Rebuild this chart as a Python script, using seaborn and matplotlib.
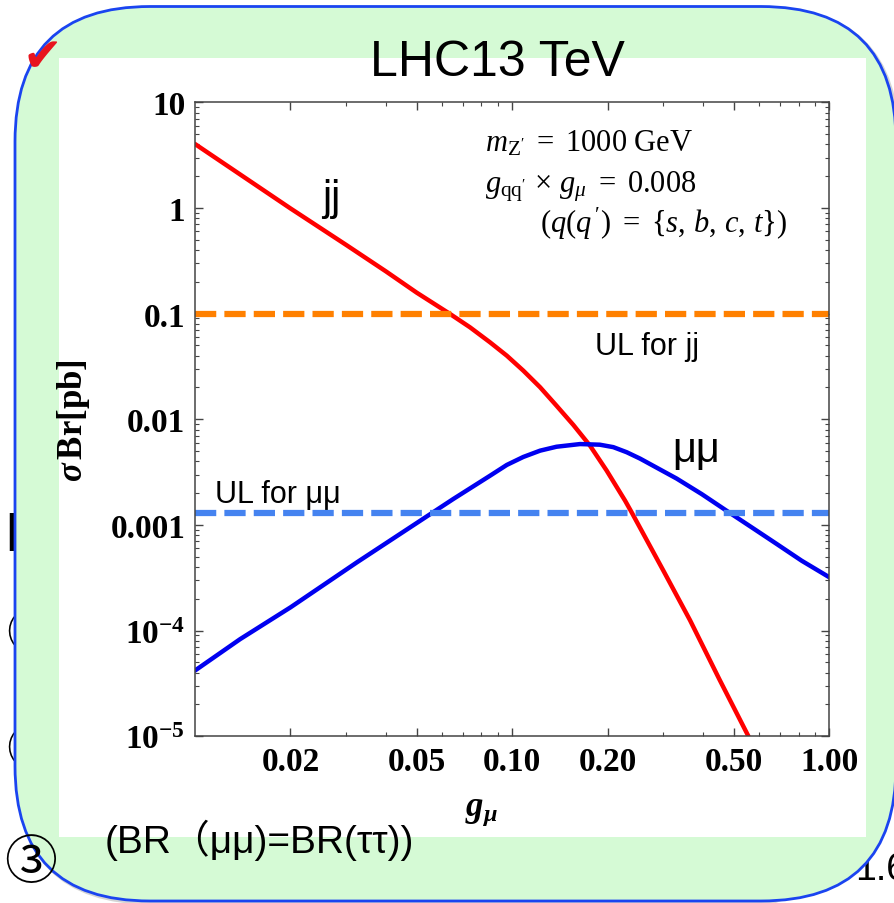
"""Z' cross section times branching ratio vs g_mu, LHC 13 TeV slide."""

import matplotlib
matplotlib.use("Agg")
import matplotlib.pyplot as plt
import numpy as np
import seaborn as sns
from matplotlib.patches import FancyBboxPatch, Rectangle
from matplotlib.ticker import LogLocator, NullFormatter

# curve data
g_jj = [0.01, 0.02, 0.03, 0.04, 0.05, 0.0637, 0.0736, 0.0851, 0.0962,
        0.1084, 0.1225, 0.138, 0.156, 0.176, 0.1986, 0.227, 0.238, 0.30,
        0.364, 0.45, 0.556]
sigma_jj = [4.03, 0.99, 0.446, 0.251, 0.158, 0.0993, 0.0743, 0.0536, 0.040,
            0.0289, 0.0201, 0.01345, 0.00883, 0.00563, 0.00327, 0.0017,
            0.00132, 3.68e-4, 1.25e-4, 3.47e-5, 1.0e-5]

g_mm = [0.01, 0.01387, 0.02, 0.0324, 0.0557, 0.0652, 0.0754, 0.0851, 0.0962,
        0.1084, 0.1225, 0.138, 0.1637, 0.189, 0.2085, 0.2297, 0.253,
        0.33, 0.396, 0.475, 0.569, 0.683, 0.818, 1.0]
sigma_mm = [4.19e-5, 8.3e-5, 1.66e-4, 4.43e-4, 1.29e-3, 1.76e-3, 2.32e-3,
            2.92e-3, 3.7e-3, 4.4e-3, 5.05e-3, 5.5e-3, 5.83e-3, 5.75e-3,
            5.45e-3, 4.88e-3, 4.25e-3, 2.75e-3, 1.96e-3, 1.36e-3,
            9.5e-4, 6.6e-4, 4.59e-4, 3.2e-4]

ul_jj = 0.1
ul_mm = 0.0013

x_ticks = [0.02, 0.05, 0.10, 0.20, 0.50, 1.00]
x_tick_labels = ["0.02", "0.05", "0.10", "0.20", "0.50", "1.00"]
y_ticks = [1e-5, 1e-4, 1e-3, 1e-2, 1e-1, 1, 10]
y_tick_labels = [r"$\mathbf{10^{-5}}$", r"$\mathbf{10^{-4}}$", "0.001", "0.01",
                 "0.1", "1", "10"]

sns.set_theme(style="ticks")
plt.rcParams["font.family"] = ["Liberation Sans", "DejaVu Sans"]
plt.rcParams["text.color"] = "black"
plt.rcParams["axes.labelcolor"] = "black"
plt.rcParams["xtick.labelcolor"] = "black"
plt.rcParams["ytick.labelcolor"] = "black"
plt.rcParams["mathtext.fontset"] = "custom"
plt.rcParams["mathtext.rm"] = "Liberation Serif"
plt.rcParams["mathtext.it"] = "Liberation Serif:italic"
plt.rcParams["mathtext.bf"] = "Liberation Serif:bold"
plt.rcParams["mathtext.bfit"] = "Liberation Serif:italic:bold"

W, H = 894, 904
fig = plt.figure(figsize=(W / 100, H / 100), dpi=100)

# background "slide" layer in pixel coordinates
bg = fig.add_axes([0, 0, 1, 1])
bg.set_xlim(0, W)
bg.set_ylim(H, 0)
bg.axis("off")
bg.set_zorder(0)

# bits of slide text partly hidden behind the box
bg.text(5, 551, "I", fontsize=40, weight="bold", ha="left", va="baseline",
        zorder=1)
for cy, ch in [(636, "\u2460"), (752, "\u2461")]:
    bg.text(31, cy, ch, fontsize=36, ha="center", va="center",
            family=["Noto Sans CJK JP"], zorder=1)
bg.text(855, 880, "1.6", fontsize=27, ha="left", va="baseline", zorder=1)

shadow = FancyBboxPatch((17, 9.5), 881, 894.5,
                        boxstyle="round,pad=0,rounding_size=135",
                        fc="none", ec="#B8B8B8", lw=2.5, alpha=0.6, zorder=2)
bg.add_patch(shadow)
box = FancyBboxPatch((15, 7.5), 881, 894.5,
                     boxstyle="round,pad=0,rounding_size=135",
                     fc="#D5FAD5", ec="#1A44F0", lw=2, zorder=3)
bg.add_patch(box)
bg.add_patch(Rectangle((59, 59), 807, 779, fc="white", ec="none", zorder=4))

# slide marks drawn over the box edge
bg.text(42, 59, "\u2714", color="#E8141E", fontsize=34, ha="center",
        va="center", family=["DejaVu Sans"], zorder=6)
bg.text(31, 864, "\u2462", fontsize=38, ha="center", va="center",
        family=["Noto Sans CJK JP"], zorder=6)

bg.text(370, 76, "LHC13 TeV", fontsize=36, ha="left", va="baseline", zorder=6)
bg.text(105, 853, "(BR\uff08\u03bc\u03bc)=BR(\u03c4\u03c4))", fontsize=28,
        ha="left", va="baseline", family=["Liberation Sans", "Noto Sans CJK JP"],
        zorder=6)

# curve labels and notes
bg.text(331, 210, "jj", fontsize=30, ha="center", va="baseline", zorder=6)
bg.text(696, 462, "\u03bc\u03bc", fontsize=30, ha="center", va="baseline", zorder=6)
bg.text(595, 355, "UL for jj", fontsize=22, ha="left", va="baseline", zorder=6)
bg.text(215, 503, "UL for \u03bc\u03bc", fontsize=22, ha="left", va="baseline",
        zorder=6)
bg.text(485, 152, r"$m_{\mathrm{Z'}}\ =\ 1000\ \mathrm{GeV}$", fontsize=22,
        ha="left", va="baseline", zorder=6)
bg.text(485, 192, r"$g_{\mathrm{qq'}}\,\times\, g_{\mu}\ =\ 0.008$", fontsize=22,
        ha="left", va="baseline", zorder=6)
bg.text(540, 233, r"$(q(q\,')\ =\ \{s,\,b,\,c,\,t\})$", fontsize=22,
        ha="left", va="baseline", zorder=6)

# axis labels
bg.text(73, 421, r"$\mathbfit{\sigma}\,\mathbf{Br[pb]}$", fontsize=25,
        rotation=90, ha="center", va="center", zorder=6)
bg.text(482, 812, r"$\mathbfit{g_{\mu}}$", fontsize=25, ha="center",
        va="center", zorder=6)

# main plot
ax = fig.add_axes([195 / W, 1 - 737.3 / H, 634.3 / W, 634 / H])
ax.set_zorder(1)
ax.set_facecolor("none")
ax.set_xscale("log")
ax.set_yscale("log")

sns.lineplot(x=g_jj, y=sigma_jj, ax=ax, color="#FF0000", lw=3.2,
             estimator=None)
sns.lineplot(x=g_mm, y=sigma_mm, ax=ax, color="#0000F0", lw=3.2,
             estimator=None)
ax.axhline(ul_jj, color="#FF8000", lw=4.5, ls=(0, (3.4, 1.3)))
ax.axhline(ul_mm, color="#4583F0", lw=4.5, ls=(0, (3.4, 1.3)))

ax.set_xlim(0.01, 1)
ax.set_ylim(1e-5, 10)
ax.set_xticks(x_ticks, labels=x_tick_labels)
ax.set_yticks(y_ticks, labels=y_tick_labels)
ax.xaxis.set_minor_locator(LogLocator(base=10, subs=np.arange(2, 10) * 1.0,
                                      numticks=20))
ax.yaxis.set_minor_locator(LogLocator(base=10, subs=np.arange(2, 10) * 1.0,
                                      numticks=20))
ax.xaxis.set_minor_formatter(NullFormatter())
ax.yaxis.set_minor_formatter(NullFormatter())
ax.tick_params(which="major", direction="in", length=6, width=1,
               top=True, right=True, color="#444444", labelcolor="black",
               labelsize=24, pad=7)
ax.tick_params(which="minor", direction="in", length=3, width=0.8,
               top=True, right=True, color="#444444")
for lab in ax.get_xticklabels() + ax.get_yticklabels():
    lab.set_family("Liberation Serif")
    lab.set_weight("bold")
for sp in ax.spines.values():
    sp.set_color("#444444")
    sp.set_linewidth(1.1)
ax.set_xlabel("")
ax.set_ylabel("")

fig.savefig("out.png", dpi=100)
